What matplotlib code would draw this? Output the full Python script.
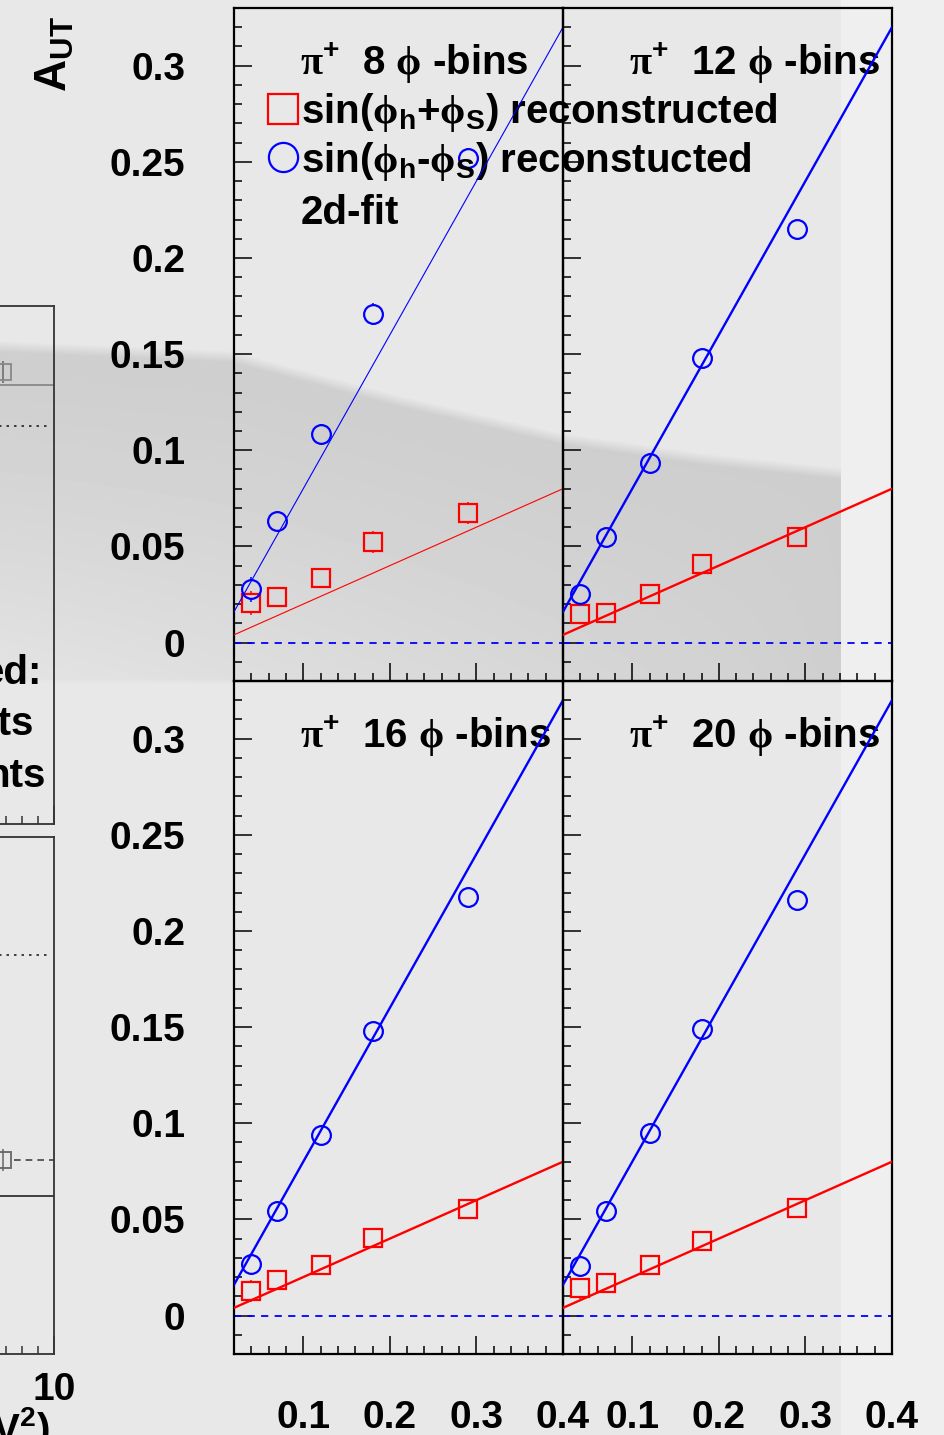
import numpy as np
import matplotlib
matplotlib.use('Agg')
import matplotlib.pyplot as plt
from matplotlib.ticker import MultipleLocator, FixedLocator

plt.rcParams['font.family'] = ['Liberation Sans', 'DejaVu Sans']
plt.rcParams['font.weight'] = 'bold'
plt.rcParams['mathtext.fontset'] = 'custom'
plt.rcParams['mathtext.rm'] = 'Liberation Serif'
plt.rcParams['mathtext.bf'] = 'Liberation Sans:bold'
plt.rcParams['mathtext.it'] = 'Liberation Sans:bold'
plt.rcParams['mathtext.default'] = 'bf'

# ---- data -------------------------------------------------------------
x_bins = [0.04, 0.07, 0.12, 0.18, 0.29]
n_phi_bins = [8, 12, 16, 20]

# sin(phi_h+phi_S), one row per binning
a_plus = [[0.0206, 0.0238, 0.0336, 0.0522, 0.0674],
          [0.0149, 0.0154, 0.0255, 0.0406, 0.0550],
          [0.0128, 0.0184, 0.0262, 0.0403, 0.0555],
          [0.0142, 0.0168, 0.0262, 0.0387, 0.0559]]
err_plus = [[0.0062, 0.0050, 0.0050, 0.0056, 0.0056],
            [0.0048, 0.0048, 0.0048, 0.0048, 0.0048],
            [0.0055, 0.0050, 0.0050, 0.0050, 0.0050],
            [0.0055, 0.0050, 0.0050, 0.0050, 0.0050]]
# sin(phi_h-phi_S)
a_minus = [[0.0277, 0.0633, 0.1085, 0.1708, 0.2520],
           [0.0253, 0.0550, 0.0934, 0.1480, 0.2150],
           [0.0267, 0.0545, 0.0938, 0.1480, 0.2177],
           [0.0257, 0.0543, 0.0949, 0.1490, 0.2160]]
err_minus = [[0.0066, 0.0050, 0.0050, 0.0058, 0.0050],
             [0.0048, 0.0048, 0.0048, 0.0048, 0.0048],
             [0.0052, 0.0048, 0.0048, 0.0048, 0.0048],
             [0.0052, 0.0048, 0.0048, 0.0048, 0.0048]]
# 2d-fit: A = slope * x + offset
fit_plus = [(0.2, 0.0), (0.2, 0.0), (0.2, 0.0), (0.2, 0.0)]
fit_minus = [(0.8, 0.0), (0.8, 0.0), (0.8, 0.0), (0.8, 0.0)]

x_major = [0.1, 0.2, 0.3, 0.4]
x_labels = ['0.1', '0.2', '0.3', '0.4']
y_major = [0, 0.05, 0.1, 0.15, 0.2, 0.25, 0.3]
y_labels = ['0', '0.05', '0.1', '0.15', '0.2', '0.25', '0.3']

# neighbouring plot on the left (only its right edge is on the page)
frag_top_pt = (8.72, 0.873, 0.021)
frag_top_solid = 0.847
frag_top_dotted = 0.768
frag_top_text = ['ed:', 'nts', 'nts']
frag_bot_pt = (8.72, 0.375, 0.021)
frag_bot_solid = 0.306
frag_bot_dotted = 0.772
frag_x_major = [5, 10]
frag_x_labels = ['5', '10']

W, H = 944, 1435
RED, BLUE = '#ff0000', '#0000ff'


def px_rect(x0, y0, x1, y1):
    return [x0 / W, 1 - y1 / H, (x1 - x0) / W, (y1 - y0) / H]


fig = plt.figure(figsize=(W / 100, H / 100), dpi=100)

# ---- grey page background with the darker band -------------------------
bg_ax = fig.add_axes([0, 0, 1, 1], zorder=-10)
xs = np.arange(W)
ys = np.arange(H)[:, None]
bg = np.full((H, W), 232.0)
bg[:, 841:] = 239.0
ytop = np.interp(xs, [0, 230, 400, 560, 700, 841], [340, 350, 395, 432, 452, 467])
edge = np.clip((ys - ytop) / 12.0, 0, 1)
fade = np.clip((684 - ys) / 6.0, 0, 1)
lighten = np.clip((ys - ytop) / (690 - ytop), 0, 1) ** 1.3 * 0.85 * (1 - xs / 841.0) ** 0.8
band = 26 * edge * fade * (1 - lighten)
band[:, 841:] = 0
bg = bg - band
bg_ax.imshow(bg, cmap='gray', vmin=0, vmax=255, aspect='auto',
             extent=[0, W, H, 0], interpolation='bilinear')
bg_ax.set_axis_off()

# ---- the four panels ---------------------------------------------------
panel_px = [(234, 8, 563, 681), (563, 8, 892, 681),
            (234, 681, 563, 1354), (563, 681, 892, 1354)]
ms = 13.5
for i, rect in enumerate(panel_px):
    ax = fig.add_axes(px_rect(*rect))
    ax.set_facecolor('none')
    ax.set_xlim(0.02, 0.4)
    ax.set_ylim(-0.02, 0.33)
    for s in ax.spines.values():
        s.set_linewidth(1.6)
    ax.xaxis.set_major_locator(FixedLocator(x_major))
    ax.xaxis.set_minor_locator(MultipleLocator(0.02))
    ax.yaxis.set_major_locator(FixedLocator(y_major))
    ax.yaxis.set_minor_locator(MultipleLocator(0.01))
    ax.set_xticklabels(x_labels)
    ax.set_yticklabels(y_labels)
    ax.tick_params(which='both', direction='in', width=1.1, top=False, right=False)
    ax.tick_params(which='major', length=13, labelsize=28)
    ax.tick_params(axis='y', which='major', pad=35)
    ax.tick_params(axis='x', which='major', pad=33)
    ax.tick_params(which='minor', length=6)
    if i < 2:
        ax.tick_params(axis='x', labelbottom=False)
    if i % 2 == 1:
        ax.tick_params(axis='y', labelleft=False)

    ax.axhline(0, color=BLUE, lw=1.3, ls=(0, (4, 3.5)), zorder=2)

    lw_fit = 0.8 if i == 0 else 1.7
    x_fit = np.array(ax.get_xlim())
    ax.plot(x_fit, fit_plus[i][0] * x_fit + fit_plus[i][1], color=RED, lw=lw_fit, zorder=6)
    ax.plot(x_fit, fit_minus[i][0] * x_fit + fit_minus[i][1], color=BLUE, lw=lw_fit, zorder=6)

    # error bars only outside the open markers
    gap = (ms / 2 * 100 / 72) / ((rect[3] - rect[1]) / 0.35)
    for yv, ev, col, mk in [(a_plus[i], err_plus[i], RED, 's'),
                            (a_minus[i], err_minus[i], BLUE, 'o')]:
        yv = np.array(yv)
        ev = np.array(ev)
        show = ev > gap
        ax.vlines(np.array(x_bins)[show], (yv + gap)[show], (yv + ev)[show], color=col, lw=1.1, zorder=3)
        ax.vlines(np.array(x_bins)[show], (yv - ev)[show], (yv - gap)[show], color=col, lw=1.1, zorder=3)
        ax.plot(x_bins, yv, mk, ms=ms, mfc='none', mec=col, mew=1.6, zorder=4)

    ax.text(0.096, 0.295, r'$\mathrm{\pi}^{+}$  %d $\mathrm{\phi}$ -bins' % n_phi_bins[i],
            fontsize=29, zorder=5)

    if i == 0:
        ax.plot([0.077], [0.2773], 's', ms=21, mfc='none', mec=RED, mew=1.6, clip_on=False, zorder=5)
        ax.plot([0.077], [0.2527], 'o', ms=21, mfc='none', mec=BLUE, mew=1.6, clip_on=False, zorder=5)
        ax.text(0.0971, 0.2702, r'sin($\mathrm{\phi}_{h}$+$\mathrm{\phi}_{S}$) reconstructed',
                fontsize=29, zorder=5)
        ax.text(0.0971, 0.2449, r'sin($\mathrm{\phi}_{h}$-$\mathrm{\phi}_{S}$) reconstucted',
                fontsize=29, zorder=5)
        ax.text(0.0971, 0.2176, '2d-fit', fontsize=29, zorder=5)

fig.text(55 / W, 1 - 16 / H, r'A$_{UT}$', rotation=90, ha='center', va='top', fontsize=32)

# ---- neighbouring plot, cut at the page edge ----------------------------
for k, (rect, pt, solid, dotted) in enumerate([
        ((-346, 306, 54, 824), frag_top_pt, frag_top_solid, frag_top_dotted),
        ((-346, 837, 54, 1354), frag_bot_pt, frag_bot_solid, frag_bot_dotted)]):
    fa = fig.add_axes(px_rect(*rect))
    fa.set_facecolor('none')
    fa.set_xlim(0, 10)
    fa.set_ylim(0, 1)
    for s in fa.spines.values():
        s.set_linewidth(1.3)
        s.set_color('#333333')
    fa.xaxis.set_major_locator(FixedLocator(frag_x_major))
    fa.xaxis.set_minor_locator(MultipleLocator(0.4))
    fa.set_xticklabels(frag_x_labels)
    fa.set_yticks([])
    fa.tick_params(which='both', direction='in', width=1.1, top=False, right=False, color='#333333')
    fa.tick_params(which='major', length=13, labelsize=28, pad=13)
    fa.tick_params(which='minor', length=6)
    if k == 0:
        fa.tick_params(axis='x', labelbottom=False)
        fa.axhline(solid, color='#888888', lw=1.3)
        fa.errorbar([pt[0]], [pt[1]], yerr=[pt[2]], fmt='s', ms=12, mfc='none', mec='#888888',
                    ecolor='#666666', mew=1.3, elinewidth=1.1)
        fa.plot([0, 9.9], [dotted, dotted], color='#222222', lw=1.2, ls=(0, (1.5, 3)))
        for txt, xr, yb in zip(frag_top_text, [41.5, 34, 46], [684, 735, 787]):
            fig.text(xr / W, 1 - yb / H, txt, ha='right', va='baseline', fontsize=29)
    else:
        fa.axhline(solid, color='#333333', lw=1.3)
        fa.errorbar([pt[0]], [pt[1]], yerr=[pt[2]], fmt='s', ms=12, mfc='none', mec='#666666',
                    ecolor='#666666', mew=1.3, elinewidth=1.1)
        fa.plot([9.0, 10], [pt[1], pt[1]], color='#444444', lw=1.2, ls=(0, (4, 3)))
        fa.plot([0, 9.9], [dotted, dotted], color='#222222', lw=1.2, ls=(0, (1.5, 3)))

fig.text(50 / W, 1 - 1405 / H, r'(GeV$^{2}$)', ha='right', va='top', fontsize=29)

fig.savefig('out.png', dpi=100)
